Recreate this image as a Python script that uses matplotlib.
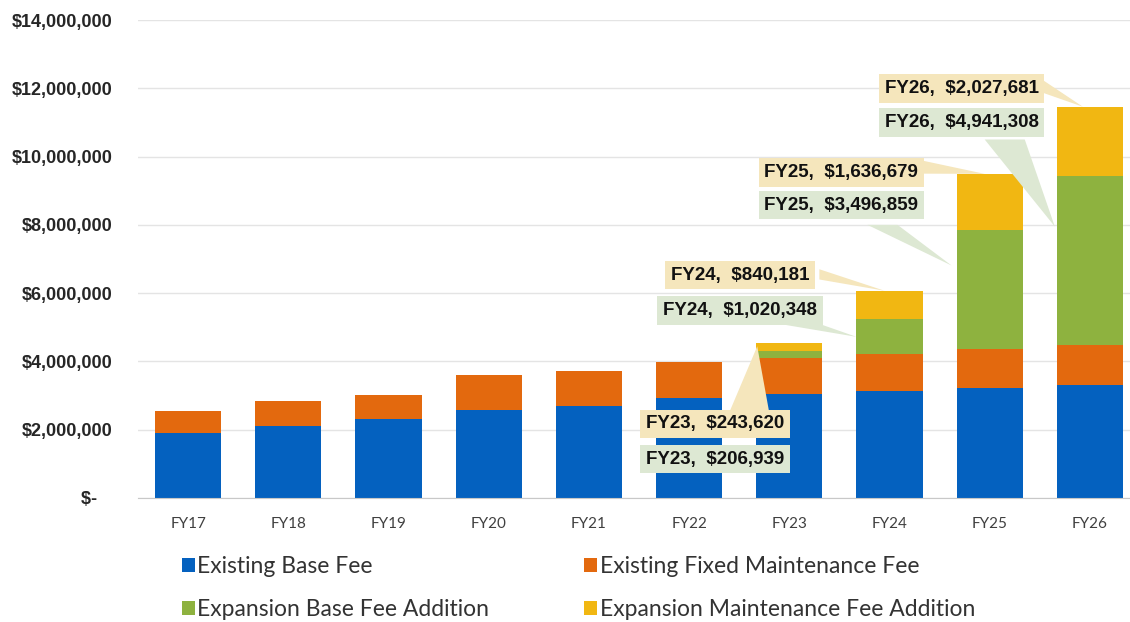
import matplotlib
matplotlib.use("Agg")
import matplotlib.pyplot as plt
from matplotlib.patches import Polygon, Patch
import numpy as np

years = ["FY17", "FY18", "FY19", "FY20", "FY21", "FY22", "FY23", "FY24", "FY25", "FY26"]
existing_base = [1900000, 2100000, 2300000, 2590000, 2690000, 2940000, 3050000, 3140000, 3210000, 3300000]
existing_maint = [640000, 740000, 730000, 1000000, 1020000, 1050000, 1040000, 1070000, 1150000, 1190000]
expansion_base = [0, 0, 0, 0, 0, 0, 206939, 1020348, 3496859, 4941308]
expansion_maint = [0, 0, 0, 0, 0, 0, 243620, 840181, 1636679, 2027681]
y_ticks = [0, 2000000, 4000000, 6000000, 8000000, 10000000, 12000000, 14000000]
series_names = ["Existing Base Fee", "Existing Fixed Maintenance Fee",
                "Expansion Base Fee Addition", "Expansion Maintenance Fee Addition"]

colors = ["#0461BF", "#E3690E", "#8EB23F", "#F1B712"]
box_yellow = "#F5E6BC"
box_green = "#DDE8D3"

bold_family = "Liberation Sans"
body = "Lato"

fig = plt.figure(figsize=(11.3, 6.22), dpi=100)
ax = fig.add_axes([138/1130, (622-498)/622, (1140-138)/1130, 478/622])

x = np.arange(len(years))
w = 0.66
b0 = np.array(existing_base, float)
b1 = np.array(existing_maint, float)
b2 = np.array(expansion_base, float)
b3 = np.array(expansion_maint, float)
ax.bar(x, b0, w, color=colors[0], zorder=2)
ax.bar(x, b1, w, bottom=b0, color=colors[1], zorder=2)
ax.bar(x, b2, w, bottom=b0+b1, color=colors[2], zorder=2)
ax.bar(x, b3, w, bottom=b0+b1+b2, color=colors[3], zorder=2)

ax.set_xlim(-0.5, len(years)-0.5)
ax.set_ylim(0, 14000000)
ax.set_yticks(y_ticks)
ax.set_yticklabels(["$-   " if v == 0 else "${:,.0f}".format(v) for v in y_ticks],
                   fontfamily=bold_family, fontweight="bold", fontsize=13, color="#262626")
ax.set_xticks(x)
ax.set_xticklabels(years, fontfamily=body, fontsize=11, color="#404040")
ax.tick_params(axis="both", length=0)
ax.tick_params(axis="y", pad=18.5)
ax.tick_params(axis="x", pad=14)
for s in ["top", "right", "left"]:
    ax.spines[s].set_visible(False)
ax.spines["bottom"].set_color("#C8C8C8")
ax.grid(axis="y", color="#E4E4E4", linewidth=1, zorder=0)
ax.set_axisbelow(True)

tops = b0 + b1 + b2 + b3
gtop = b0 + b1 + b2

def add_callout(i, val, cx, cy, fc, base, tip):
    poly = Polygon([base[0], base[1], tip], closed=True, facecolor=fc, edgecolor="none", zorder=4)
    ax.add_patch(poly)
    ax.text(cx, cy, "{},  ${:,.0f}".format(years[i], val), ha="center", va="center",
            fontfamily=bold_family, fontweight="bold", fontsize=13.5, color="#111111", zorder=6,
            bbox=dict(boxstyle="square,pad=0.31", facecolor=fc, edgecolor="none"))

M = 1e6
add_callout(6, b2[6], 5.26, 1.14*M, box_green, [(5.50, 1.9*M), (5.70, 1.9*M)], (6-0.32, gtop[6]-b2[6]*0.5))
add_callout(6, b3[6], 5.26, 2.17*M, box_yellow, [(5.40, 2.5*M), (5.80, 2.5*M)], (6-0.32, tops[6]-b3[6]*0.4))
add_callout(7, b3[7], 5.51, 6.53*M, box_yellow, [(6.30, 6.4*M), (6.30, 6.7*M)], (7-0.05, tops[7]))
add_callout(7, b2[7], 5.51, 5.50*M, box_green, [(5.90, 5.1*M), (6.30, 5.1*M)], (7-0.33, gtop[7]-b2[7]*0.5))
add_callout(8, b3[8], 6.52, 9.54*M, box_yellow, [(7.30, 9.5*M), (7.30, 9.9*M)], (8-0.05, tops[8]))
add_callout(8, b2[8], 6.52, 8.58*M, box_green, [(6.78, 8.0*M), (7.08, 8.0*M)], (8-0.38, gtop[8]-b2[8]*0.3))
add_callout(9, b3[9], 7.72, 12.0*M, box_yellow, [(8.50, 11.9*M), (8.50, 12.3*M)], (9-0.07, tops[9]))
add_callout(9, b2[9], 7.72, 11.0*M, box_green, [(7.95, 10.5*M), (8.35, 10.5*M)], (9-0.35, gtop[9]-b2[9]*0.3))

handles = [Patch(facecolor=colors[k], edgecolor="none") for k in [0, 2, 1, 3]]
labels = [series_names[k] for k in [0, 2, 1, 3]]
fig.legend(handles, labels, loc="upper left", bbox_to_anchor=(182/1130, 1-556/622), ncol=2,
           frameon=False, prop=dict(family=body, size=16.5), labelcolor="#333333",
           handlelength=0.55, handleheight=0.55, handletextpad=0.12, columnspacing=4.15,
           labelspacing=0.95, borderpad=0, borderaxespad=0)

fig.savefig("out.png", dpi=100)
